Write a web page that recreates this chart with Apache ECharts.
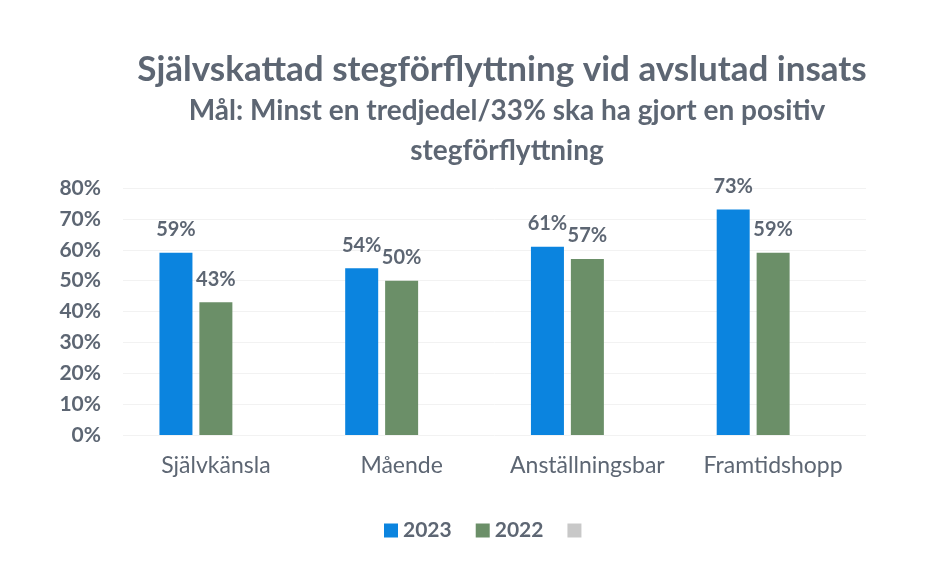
<!DOCTYPE html>
<html><head><meta charset="utf-8">
<script src="https://cdn.jsdelivr.net/npm/echarts@6/dist/echarts.min.js"></script>
<style>html,body{margin:0;padding:0;background:#fff}#c{width:949px;height:584px}</style>
</head><body><div id="c"></div>
<script>
const categories = ['Självkänsla', 'Mående', 'Anställningsbar', 'Framtidshopp'];
const values2023 = [59, 54, 61, 73];
const values2022 = [43, 50, 57, 59];
const valuesEmpty = [null, null, null, null];
const yTicks = [0, 10, 20, 30, 40, 50, 60, 70, 80];

const txt = '#5d6673';
const font = 'Lato';
const chart = echarts.init(document.getElementById('c'));
const lbl = {show: true, position: 'top', distance: 13, formatter: p => p.value + '%', color: txt, fontFamily: font, fontWeight: 'bold', fontSize: 20};
chart.setOption({
  animation: false,
  title: [{
    text: 'Självskattad stegförflyttning vid avslutad insats',
    left: 497, top: 47, textAlign: 'center',
    textStyle: {color: txt, fontFamily: font, fontWeight: 'bold', fontSize: 35}
  }, {
    text: 'Mål: Minst en tredjedel/33% ska ha gjort en positiv\nstegförflyttning',
    left: 502, top: 86, textAlign: 'center',
    textStyle: {color: txt, fontFamily: font, fontWeight: 'bold', fontSize: 28, lineHeight: 40}
  }],
  legend: {
    bottom: 38, left: 379, itemWidth: 14, itemHeight: 14, itemGap: 24,
    icon: 'rect',
    textStyle: {color: txt, fontFamily: font, fontWeight: 'bold', fontSize: 21},
    data: [{name: '2023'}, {name: '2022'}, {name: ' '}]
  },
  grid: {left: 123, right: 83, top: 188, bottom: 149, containLabel: false},
  xAxis: {
    type: 'category', data: categories,
    axisLine: {show: false}, axisTick: {show: false},
    axisLabel: {interval: 0, color: txt, fontFamily: font, fontSize: 23, margin: 19}
  },
  yAxis: {
    type: 'value', min: 0, max: 80, interval: 10,
    axisLabel: {formatter: v => v + '%', color: txt, fontFamily: font, fontWeight: 'bold', fontSize: 21, margin: 22},
    splitLine: {lineStyle: {color: '#f2f2f2'}},
    axisLine: {show: false}, axisTick: {show: false}
  },
  series: [
    {name: '2023', type: 'bar', data: values2023, barWidth: 33, barGap: '21%', itemStyle: {color: '#0b84df'}, label: lbl},
    {name: '2022', type: 'bar', data: values2022, barWidth: 33, itemStyle: {color: '#6b8f68'}, label: lbl},
    {name: ' ', type: 'bar', data: valuesEmpty, barWidth: 33, itemStyle: {color: '#c8c8c8'}}
  ]
});
</script></body></html>
